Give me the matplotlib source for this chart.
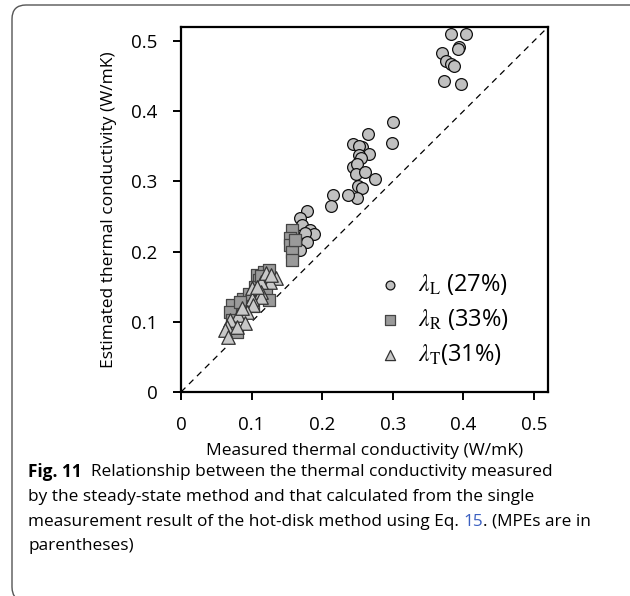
import matplotlib
matplotlib.use("Agg")
import matplotlib.pyplot as plt
from matplotlib.patches import FancyBboxPatch

plt.rcParams['font.family'] = ['Open Sans', 'DejaVu Sans']
plt.rcParams['mathtext.fontset'] = 'stix'

# ---- data ----
circ_x = [0.382, 0.404, 0.394, 0.392, 0.370, 0.375, 0.382, 0.387, 0.373, 0.397,
          0.301, 0.265, 0.244, 0.299, 0.257, 0.252, 0.266, 0.252, 0.255, 0.243,
          0.249, 0.248, 0.260, 0.275, 0.251, 0.257, 0.250, 0.237, 0.215, 0.212,
          0.178, 0.168, 0.171, 0.183, 0.188, 0.176, 0.178, 0.169]
circ_y = [0.510, 0.510, 0.491, 0.489, 0.483, 0.471, 0.468, 0.465, 0.443, 0.439,
          0.384, 0.368, 0.354, 0.355, 0.349, 0.350, 0.339, 0.338, 0.334, 0.321,
          0.325, 0.311, 0.314, 0.303, 0.293, 0.290, 0.276, 0.280, 0.281, 0.265,
          0.258, 0.248, 0.238, 0.231, 0.225, 0.226, 0.214, 0.202]

sq_x = [0.157, 0.154, 0.155, 0.157, 0.157, 0.161,
        0.107, 0.117, 0.124, 0.110, 0.121, 0.124, 0.088, 0.091, 0.072, 0.069,
        0.072, 0.079, 0.102, 0.105, 0.113, 0.097, 0.083]
sq_y = [0.231, 0.219, 0.209, 0.200, 0.188, 0.217,
        0.167, 0.171, 0.174, 0.160, 0.145, 0.131, 0.133, 0.122, 0.124, 0.114,
        0.103, 0.086, 0.122, 0.150, 0.165, 0.140, 0.128]

tri_x = [0.135, 0.126, 0.114, 0.100, 0.114, 0.114, 0.100, 0.102, 0.093, 0.081,
         0.091, 0.069, 0.065, 0.062, 0.067, 0.079, 0.121, 0.128, 0.108, 0.086]
tri_y = [0.162, 0.157, 0.157, 0.148, 0.143, 0.136, 0.133, 0.124, 0.114, 0.110,
         0.098, 0.103, 0.093, 0.088, 0.079, 0.093, 0.169, 0.167, 0.150, 0.120]

labels = [r'$\lambda_{\mathrm{L}}$ (27%)', r'$\lambda_{\mathrm{R}}$ (33%)', r'$\lambda_{\mathrm{T}}$(31%)']
xticks = [0, 0.1, 0.2, 0.3, 0.4, 0.5]
yticks = [0, 0.1, 0.2, 0.3, 0.4, 0.5]
tick_labels = ['0', '0.1', '0.2', '0.3', '0.4', '0.5']

W, H = 630, 596
fig = plt.figure(figsize=(W / 100, H / 100), dpi=100)

# outer rounded frame
frame = FancyBboxPatch((0.12, -0.05), 6.36, 5.96,
                       boxstyle="round,pad=0,rounding_size=0.14",
                       transform=fig.dpi_scale_trans, fill=False,
                       edgecolor='#555555', linewidth=1.0, zorder=0)
fig.patches.append(frame)

ax = fig.add_axes([181 / W, 1 - 392 / H, 367 / W, 365 / H])
lim = 0.52
ax.plot([0, lim], [0, lim], linestyle=(0, (5, 4)), color='black', linewidth=0.9, zorder=1)

sc_c = ax.scatter(circ_x, circ_y, marker='o', s=72, facecolor='#c0c0c0', edgecolor='#111111',
                  linewidth=0.9, zorder=2)
sc_s = ax.scatter(sq_x, sq_y, marker='s', s=80, facecolor='#9a9a9a', edgecolor='#444444',
                  linewidth=0.9, zorder=3)
sc_t = ax.scatter(tri_x, tri_y, marker='^', s=95, facecolor='#c8c8c8', edgecolor='#333333',
                  linewidth=0.9, zorder=4)

ax.set_xlim(0, lim)
ax.set_ylim(0, lim)
ax.set_xticks(xticks)
ax.set_xticklabels(tick_labels)
ax.set_yticks(yticks)
ax.set_yticklabels(tick_labels)
ax.tick_params(direction='out', length=6, width=1.4, labelsize=13.5)
ax.tick_params(axis='x', pad=11)
ax.tick_params(axis='y', pad=11)
for s in ax.spines.values():
    s.set_linewidth(1.6)

ax.set_xlabel('Measured thermal conductivity (W/mK)', fontsize=12.5, labelpad=7)
ax.set_ylabel('Estimated thermal conductivity (W/mK)', fontsize=12.5, labelpad=10)

leg = ax.legend([sc_c, sc_s, sc_t], labels, loc='upper left',
                bbox_to_anchor=(0.479, 0.387), frameon=False, fontsize=17,
                markerscale=0.75, handletextpad=0.7, labelspacing=0.43,
                handlelength=1.0, borderpad=0.4)

# caption
cap_size = 12.4
x0 = 28 / W
ys = [472, 497, 522, 546]
fig.canvas.draw()
r = fig.canvas.get_renderer()
t = fig.text(x0, 1 - ys[0] / H, 'Fig. 11', fontsize=cap_size, fontweight='bold', va='center', ha='left')
bb = t.get_window_extent(renderer=r)
fig.text((bb.x1 + 9) / W, 1 - ys[0] / H, 'Relationship between the thermal conductivity measured',
         fontsize=cap_size, va='center', ha='left')
fig.text(x0, 1 - ys[1] / H, 'by the steady-state method and that calculated from the single',
         fontsize=cap_size, va='center', ha='left')
t3 = fig.text(x0, 1 - ys[2] / H, 'measurement result of the hot-disk method using Eq. ',
              fontsize=cap_size, va='center', ha='left')
bb3 = t3.get_window_extent(renderer=r)
t4 = fig.text(bb3.x1 / W, 1 - ys[2] / H, '15', fontsize=cap_size, va='center', ha='left', color='#3b5fc0')
bb4 = t4.get_window_extent(renderer=r)
fig.text(bb4.x1 / W, 1 - ys[2] / H, '. (MPEs are in', fontsize=cap_size, va='center', ha='left')
fig.text(x0, 1 - ys[3] / H, 'parentheses)', fontsize=cap_size, va='center', ha='left')

fig.savefig('out.png', dpi=100)
